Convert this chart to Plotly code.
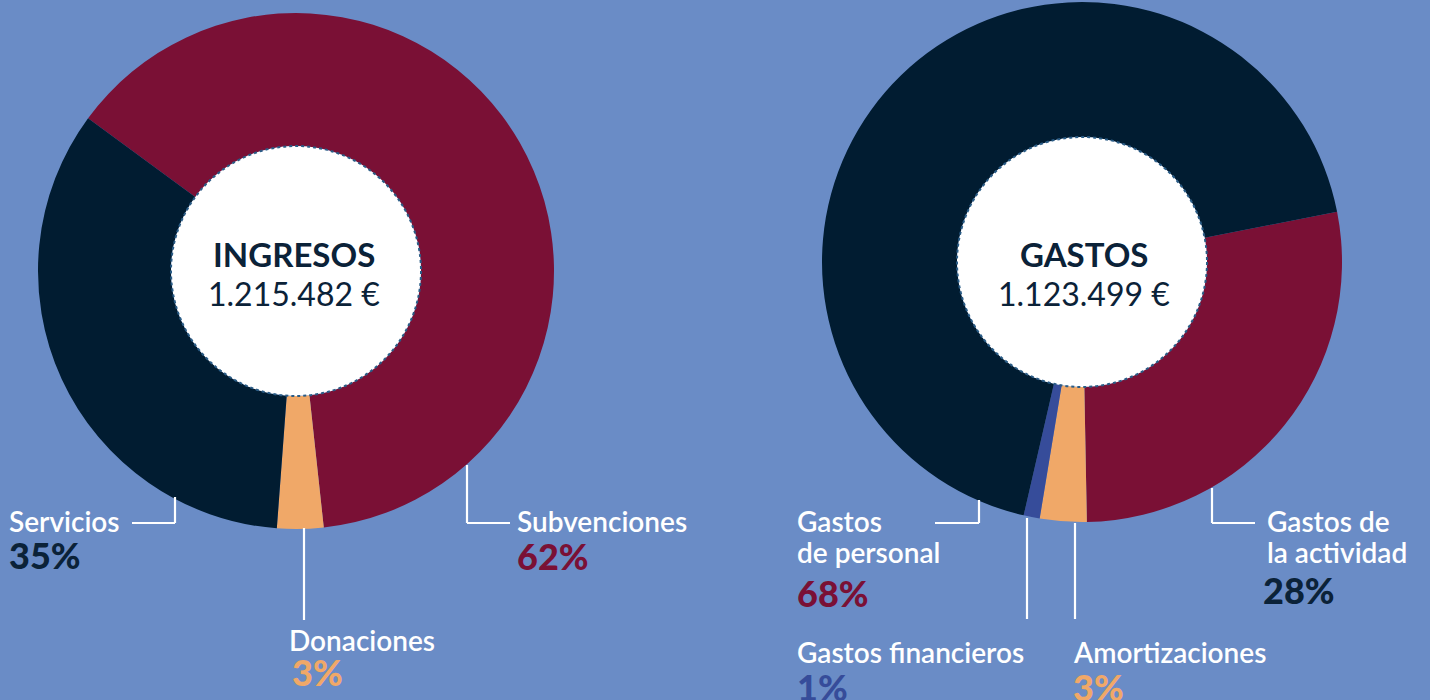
import plotly.graph_objects as go

W, H = 1430, 700

# ---- data ----
ingresos_labels = ["Subvenciones", "Donaciones", "Servicios"]
ingresos_values = [63.2, 2.9, 33.9]  # slice shares as drawn
ingresos_pct_text = ["62%", "3%", "35%"]
ingresos_total = "1.215.482 €"

gastos_labels = ["Gastos de la actividad", "Amortizaciones", "Gastos financieros", "Gastos de personal"]
gastos_values = [27.8, 2.9, 1.0, 68.3]
gastos_pct_text = ["28%", "3%", "1%", "68%"]
gastos_total = "1.123.499 €"

# ---- style ----
BG = "#6a8cc6"
NAVY = "#011c31"
MAROON = "#7a1035"
ORANGE = "#f0a868"
BLUE = "#364c9a"
DARK_TEXT = "#0b2238"
FONT = "Source Sans Pro, Lato, Noto Sans, sans-serif"

ingresos_colors = [MAROON, ORANGE, NAVY]
gastos_colors = [MAROON, ORANGE, BLUE, NAVY]


def px(x):
    return x / W


def py(y):
    return 1 - y / H


def domain(cx, cy, r):
    return dict(x=[px(cx - r), px(cx + r)], y=[py(cy + r), py(cy - r)])


LEFT = (296, 271, 258)
RIGHT = (1082, 262, 260)
HOLE_R = 125

fig = go.Figure()

fig.add_trace(
    go.Pie(
        labels=ingresos_labels,
        values=ingresos_values,
        marker=dict(colors=ingresos_colors, line=dict(width=0)),
        sort=False,
        direction="clockwise",
        rotation=306.3,
        hole=HOLE_R / LEFT[2],
        textinfo="none",
        hoverinfo="label",
        domain=domain(*LEFT),
        showlegend=False,
    )
)

fig.add_trace(
    go.Pie(
        labels=gastos_labels,
        values=gastos_values,
        marker=dict(colors=gastos_colors, line=dict(width=0)),
        sort=False,
        direction="clockwise",
        rotation=78.85,
        hole=HOLE_R / RIGHT[2],
        textinfo="none",
        hoverinfo="label",
        domain=domain(*RIGHT),
        showlegend=False,
    )
)

shapes = []
for cx, cy, _ in (LEFT, RIGHT):
    shapes.append(
        dict(
            type="circle", xref="paper", yref="paper", layer="above",
            x0=px(cx - HOLE_R), x1=px(cx + HOLE_R),
            y0=py(cy + HOLE_R), y1=py(cy - HOLE_R),
            fillcolor="white", line=dict(color="#2a5c86", width=2, dash="dot"),
        )
    )

# leader lines (pixel polylines)
leaders = [
    [(175, 497), (175, 523), (132, 523)],
    [(467, 465), (467, 523), (510, 523)],
    [(304, 528), (304, 620)],
    [(979, 500), (979, 523), (935, 523)],
    [(1027, 518), (1027, 619)],
    [(1075, 523), (1075, 619)],
    [(1212, 488), (1212, 523), (1255, 523)],
]
for pts in leaders:
    for (x0, y0), (x1, y1) in zip(pts[:-1], pts[1:]):
        shapes.append(
            dict(
                type="line", xref="paper", yref="paper", layer="above",
                x0=px(x0), y0=py(y0), x1=px(x1), y1=py(y1),
                line=dict(color="white", width=2.2),
            )
        )

annotations = []


def text(x, y, s, size, color, weight=600, anchor="left"):
    annotations.append(
        dict(
            x=px(x), y=py(y), xref="paper", yref="paper", text=s, showarrow=False,
            xanchor=anchor, yanchor="middle", align="left",
            font=dict(family=FONT, size=size, color=color, weight=weight),
        )
    )


# centre texts
text(LEFT[0] - 2, 254, "INGRESOS", 33, DARK_TEXT, 700, "center")
text(LEFT[0] - 2, 294, ingresos_total, 32, DARK_TEXT, 400, "center")
text(RIGHT[0] + 2, 254, "GASTOS", 33, DARK_TEXT, 700, "center")
text(RIGHT[0] + 2, 294, gastos_total, 32, DARK_TEXT, 400, "center")

LBL, PCT = 28, 36

text(7, 521, ingresos_labels[2], LBL, "white")
text(7, 555, ingresos_pct_text[2], PCT, DARK_TEXT, 900)
text(515, 521, ingresos_labels[0], LBL, "white")
text(515, 556, ingresos_pct_text[0], PCT, MAROON, 900)
text(287, 640, ingresos_labels[1], LBL, "white")
text(290, 672, ingresos_pct_text[1], PCT, ORANGE, 900)

text(795, 521, "Gastos", LBL, "white")
text(795, 552, "de personal", LBL, "white")
text(795, 593, gastos_pct_text[3], PCT, MAROON, 900)
text(795, 652, gastos_labels[2], LBL, "white")
text(795, 687, gastos_pct_text[2], PCT, BLUE, 900)
text(1071, 652, gastos_labels[1], LBL, "white")
text(1071, 687, gastos_pct_text[1], PCT, ORANGE, 900)
text(1265, 521, "Gastos de", LBL, "white")
text(1265, 552, "la actividad", LBL, "white")
text(1261, 590, gastos_pct_text[0], PCT, DARK_TEXT, 900)

fig.update_layout(
    width=W,
    height=H,
    margin=dict(l=0, r=0, t=0, b=0),
    paper_bgcolor=BG,
    plot_bgcolor=BG,
    shapes=shapes,
    annotations=annotations,
    showlegend=False,
)

fig.write_html(
    "out.html",
    config={"displayModeBar": False},
    post_script="document.body.style.margin='0';document.body.style.background='" + BG + "';",
)
